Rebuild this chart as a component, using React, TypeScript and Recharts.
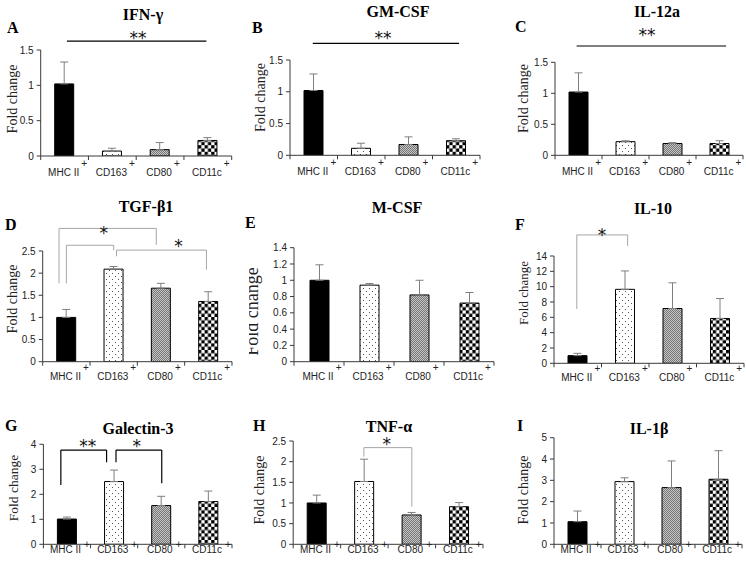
import React from 'react';
import { BarChart, Bar, XAxis, YAxis, ErrorBar, ReferenceLine, ReferenceDot, Cell } from 'recharts';

// ---------- data ----------
const categories = ['MHC II', 'CD163', 'CD80', 'CD11c'];

const ifnMeans = [1.02, 0.07, 0.09, 0.22];
const ifnErrs = [0.31, 0.04, 0.1, 0.04];
const gmMeans = [1.02, 0.11, 0.17, 0.23];
const gmErrs = [0.26, 0.08, 0.12, 0.03];
const il12Means = [1.02, 0.22, 0.19, 0.19];
const il12Errs = [0.31, 0.015, 0.015, 0.045];
const tgfMeans = [1.0, 2.09, 1.66, 1.36];
const tgfErrs = [0.18, 0.06, 0.11, 0.22];
const mcsfMeans = [1.0, 0.94, 0.82, 0.72];
const mcsfErrs = [0.19, 0.02, 0.18, 0.13];
const il10Means = [1.0, 9.65, 7.15, 5.85];
const il10Errs = [0.3, 2.4, 3.35, 2.6];
const galMeans = [1.01, 2.51, 1.55, 1.71];
const galErrs = [0.08, 0.46, 0.37, 0.42];
const tnfMeans = [1.0, 1.52, 0.71, 0.91];
const tnfErrs = [0.19, 0.54, 0.06, 0.1];
const il1Means = [1.06, 2.94, 2.66, 3.05];
const il1Errs = [0.5, 0.18, 1.25, 1.34];

const ticks15 = [0, 0.5, 1, 1.5];
const ticks25 = [0, 0.5, 1, 1.5, 2, 2.5];
const ticks14 = [0, 0.2, 0.4, 0.6, 0.8, 1, 1.2, 1.4];
const ticks14b = [0, 2, 4, 6, 8, 10, 12, 14];
const ticks4 = [0, 1, 2, 3, 4];
const ticks5 = [0, 1, 2, 3, 4, 5];
const xTicks = [0, 0.5, 1, 1.5, 2, 2.5, 3, 3.5, 4];

// significance brackets (data units: x in category slots 0..4, y in fold change)
const ifnSig = [{ x1: 0.55, x2: 3.47, top: 1.627, l: 1.627, r: 1.627 }];
const ifnStars = [{ x: 2.04, y: 1.73, t: '**' }];
const gmSig = [{ x1: 0.48, x2: 3.56, top: 1.763, l: 1.763, r: 1.763 }];
const gmStars = [{ x: 1.96, y: 1.91, t: '**' }];
const il12Sig = [{ x1: 0.46, x2: 3.64, top: 1.763, l: 1.763, r: 1.763 }];
const il12Stars = [{ x: 1.96, y: 2.0, t: '**' }];
const tgfSig = [
  { x1: 0.345, x2: 2.4, top: 3.01, l: 1.77, r: 2.64 },
  { x1: 0.5, x2: 1.5, top: 2.63, l: 1.77, r: 2.52 },
  { x1: 1.56, x2: 3.46, top: 2.52, l: 2.38, r: 2.08 },
];
const tgfStars = [
  { x: 1.29, y: 3.0, t: '*' },
  { x: 2.87, y: 2.7, t: '*' },
];
const il10Sig = [{ x1: 0.48, x2: 1.55, top: 16.75, l: 7.09, r: 15.3 }];
const il10Stars = [{ x: 1.01, y: 17.3, t: '*' }];
const galSig = [
  { x1: 0.37, x2: 1.34, top: 3.77, l: 2.37, r: 3.28 },
  { x1: 1.54, x2: 2.51, top: 3.77, l: 3.28, r: 2.44 },
];
const galStars = [
  { x: 0.94, y: 4.11, t: '**' },
  { x: 1.98, y: 4.11, t: '*' },
];
const tnfSig = [{ x1: 1.49, x2: 2.5, top: 2.34, l: 2.12, r: 0.91 }];
const tnfStars = [{ x: 1.97, y: 2.52, t: '*' }];

// ---------- styles / layout ----------
const SANS = '"Liberation Sans", Arial, sans-serif';
const SERIF = '"Liberation Serif", "Times New Roman", serif';
const AXIS = '#3a3a3a';
const fills = ['#000000', 'url(#pDots)', 'url(#pGrain)', 'url(#pChecker)'];

const rows = [
  { labelDy: 20, plusDy: -9.5, plusDx: 2, xH: 25 },
  { labelDy: 18, plusDy: -9, plusDx: 2, xH: 25 },
  { labelDy: 9, plusDy: -5, plusDx: 3, xH: 15 },
];

const panels = [
  { title: 'IFN-γ', letter: 'A', means: ifnMeans, errs: ifnErrs, yTicks: ticks15, sig: ifnSig, stars: ifnStars, sigColor: '#000',
    x0: 0, y0: 0, w: 248, h: 185, plot: { l: 40.7, r: 231.7, t: 50, b: 156 }, row: 0,
    titlePos: [143, 19.5], letterPos: [7, 33], yLab: [16.5, 99, 14] },
  { title: 'GM-CSF', letter: 'B', means: gmMeans, errs: gmErrs, yTicks: ticks15, sig: gmSig, stars: gmStars, sigColor: '#000',
    x0: 248, y0: 0, w: 247, h: 185, plot: { l: 290, r: 480, t: 60, b: 155.3 }, row: 0,
    titlePos: [398, 16.7], letterPos: [252, 33], yLab: [265, 97.5, 14] },
  { title: 'IL-12a', letter: 'C', means: il12Means, errs: il12Errs, yTicks: ticks15, sig: il12Sig, stars: il12Stars, sigColor: '#000',
    x0: 495, y0: 0, w: 251, h: 185, plot: { l: 555, r: 743, t: 62.3, b: 155.3 }, row: 0,
    titlePos: [657, 16.7], letterPos: [515, 32], yLab: [528, 98.5, 14] },
  { title: 'TGF-β1', letter: 'D', means: tgfMeans, errs: tgfErrs, yTicks: ticks25, sig: tgfSig, stars: tgfStars, sigColor: '#a6a6a6',
    x0: 0, y0: 185, w: 248, h: 200, plot: { l: 42.7, r: 232, t: 251, b: 361.7 }, row: 1,
    titlePos: [146, 212], letterPos: [5, 230], yLab: [17, 299, 14] },
  { title: 'M-CSF', letter: 'E', means: mcsfMeans, errs: mcsfErrs, yTicks: ticks14, sig: [], stars: [], sigColor: '#a6a6a6',
    x0: 248, y0: 185, w: 247, h: 200, plot: { l: 294, r: 494, t: 247.7, b: 361.7 }, row: 1,
    titlePos: [397, 213], letterPos: [245, 228], yLab: [258, 311.5, 18] },
  { title: 'IL-10', letter: 'F', means: il10Means, errs: il10Errs, yTicks: ticks14b, sig: il10Sig, stars: il10Stars, sigColor: '#a6a6a6',
    x0: 495, y0: 185, w: 251, h: 200, plot: { l: 554, r: 744, t: 256, b: 363.3 }, row: 1,
    titlePos: [653, 214], letterPos: [515, 230], yLab: [528, 293, 13] },
  { title: 'Galectin-3', letter: 'G', means: galMeans, errs: galErrs, yTicks: ticks4, sig: galSig, stars: galStars, sigColor: '#000',
    x0: 0, y0: 375, w: 248, h: 187, plot: { l: 43.4, r: 232, t: 444.3, b: 544.3 }, row: 2,
    titlePos: [138, 434], letterPos: [5, 431], yLab: [18, 488, 13.5] },
  { title: 'TNF-α', letter: 'H', means: tnfMeans, errs: tnfErrs, yTicks: ticks25, sig: tnfSig, stars: tnfStars, sigColor: '#a6a6a6',
    x0: 248, y0: 375, w: 247, h: 187, plot: { l: 293.2, r: 483, t: 441, b: 544.3 }, row: 2,
    titlePos: [389, 432], letterPos: [253, 431], yLab: [264, 490, 14] },
  { title: 'IL-1β', letter: 'I', means: il1Means, errs: il1Errs, yTicks: ticks5, sig: [], stars: [], sigColor: '#000',
    x0: 495, y0: 375, w: 251, h: 187, plot: { l: 554, r: 742, t: 437.7, b: 544.3 }, row: 2,
    titlePos: [649, 434], letterPos: [517, 431], yLab: [528, 490, 14] },
];

const Y_W = 30;

function XTick(props: any) {
  const { x, y, payload, row } = props;
  const v = payload.value as number;
  if (Number.isInteger(v)) {
    return <line x1={x} x2={x} y1={y} y2={y + 4} stroke={AXIS} strokeWidth={1} />;
  }
  const idx = Math.floor(v);
  const r = rows[row];
  return (
    <text x={x} y={y + r.labelDy} textAnchor="middle" fontFamily={SANS} fontSize={10} fill="#222">
      <tspan dx={3}>{categories[idx]}</tspan>
      <tspan dx={r.plusDx} dy={r.plusDy} fontSize={10}>+</tspan>
    </text>
  );
}

function Panel({ p }: { p: any }) {
  const r = rows[p.row];
  const margin = {
    top: p.plot.t - p.y0,
    right: p.x0 + p.w - p.plot.r,
    bottom: p.y0 + p.h - p.plot.b - r.xH,
    left: p.plot.l - p.x0 - Y_W,
  };
  const data = categories.map((c, i) => ({ pos: i + 0.5, name: c, mean: p.means[i], err: [0, p.errs[i]] }));
  const yMax = p.yTicks[p.yTicks.length - 1];
  const sigW = p.sigColor === '#000' ? 1.2 : 1;
  const lines: any[] = [];
  p.sig.forEach((s: any, i: number) => {
    lines.push(
      <ReferenceLine key={`h${i}`} segment={[{ x: s.x1, y: s.top }, { x: s.x2, y: s.top }]} stroke={p.sigColor} strokeWidth={sigW} ifOverflow="visible" />
    );
    if (s.l !== s.top) {
      lines.push(
        <ReferenceLine key={`l${i}`} segment={[{ x: s.x1, y: s.top }, { x: s.x1, y: s.l }]} stroke={p.sigColor} strokeWidth={sigW} ifOverflow="visible" />
      );
    }
    if (s.r !== s.top) {
      lines.push(
        <ReferenceLine key={`r${i}`} segment={[{ x: s.x2, y: s.top }, { x: s.x2, y: s.r }]} stroke={p.sigColor} strokeWidth={sigW} ifOverflow="visible" />
      );
    }
  });
  return (
    <div style={{ position: 'absolute', left: p.x0, top: p.y0, width: p.w, height: p.h }}>
      <BarChart width={p.w} height={p.h} data={data} margin={margin} style={{ overflow: 'visible' }}>
        <XAxis
          dataKey="pos"
          type="number"
          domain={[0, 4]}
          ticks={xTicks}
          interval={0}
          allowDataOverflow
          tickSize={0}
          tickMargin={0}
          tickLine={false}
          height={r.xH}
          stroke={AXIS}
          tick={(tp: any) => <XTick {...tp} row={p.row} />}
        />
        <YAxis
          type="number"
          domain={[0, yMax]}
          ticks={p.yTicks}
          interval={0}
          allowDataOverflow
          width={Y_W}
          tickSize={4}
          tickMargin={3}
          stroke={AXIS}
          tick={{ fontSize: 10, fill: '#222', fontFamily: SANS }}
        />
        <Bar dataKey="mean" barSize={19} stroke="#000" strokeWidth={1} isAnimationActive={false}>
          {data.map((d, i) => (
            <Cell key={d.name} fill={fills[i]} />
          ))}
          <ErrorBar dataKey="err" direction="y" width={4} stroke="#7f7f7f" strokeWidth={1} isAnimationActive={false} />
        </Bar>
        {lines}
        {p.stars.map((s: any, i: number) => (
          <ReferenceDot
            key={`s${i}`}
            x={s.x}
            y={s.y}
            ifOverflow="visible"
            shape={(sp: any) => (
              <text x={sp.cx} y={sp.cy + 10} textAnchor="middle" fontFamily='"DejaVu Sans", sans-serif' fontSize={17} fill="#111">
                {s.t}
              </text>
            )}
          />
        ))}
      </BarChart>
    </div>
  );
}

export default function App() {
  return (
    <div style={{ position: 'absolute', left: 0, top: 0, width: 746, height: 562, background: '#fff', overflow: 'hidden' }}>
      <svg width={0} height={0} style={{ position: 'absolute' }}>
        <defs>
          <pattern id="pDots" width="6" height="6" patternUnits="userSpaceOnUse">
            <rect width="6" height="6" fill="#fff" />
            <rect x="1" y="1" width="1" height="1" fill="#555" />
            <rect x="4" y="4" width="1" height="1" fill="#555" />
          </pattern>
          <pattern id="pGrain" width="2" height="2" patternUnits="userSpaceOnUse">
            <rect width="2" height="2" fill="#c4c4c4" />
            <rect x="0" y="0" width="1" height="1" fill="#777" />
            <rect x="1" y="1" width="1" height="1" fill="#777" />
          </pattern>
          <pattern id="pChecker" width="6.6" height="6.6" patternUnits="userSpaceOnUse">
            <rect width="6.6" height="6.6" fill="#fff" />
            <rect width="3.3" height="3.3" fill="#000" />
            <rect x="3.3" y="3.3" width="3.3" height="3.3" fill="#000" />
          </pattern>
          <clipPath id="clipE">
            <rect x="249" y="0" width="30" height="562" />
          </clipPath>
        </defs>
      </svg>
      {panels.map((p) => (
        <Panel key={p.letter} p={p} />
      ))}
      <svg width={746} height={562} style={{ position: 'absolute', left: 0, top: 0, pointerEvents: 'none' }}>
        {panels.map((p) => (
          <g key={p.letter}>
            <text x={p.titlePos[0]} y={p.titlePos[1]} textAnchor="middle" fontFamily={SERIF} fontWeight="bold" fontSize={16} fill="#000">
              {p.title}
            </text>
            <text x={p.letterPos[0]} y={p.letterPos[1]} fontFamily={SERIF} fontWeight="bold" fontSize={16} fill="#000">
              {p.letter}
            </text>
            <g clipPath={p.letter === 'E' ? 'url(#clipE)' : undefined}>
              <text
                x={p.yLab[0]}
                y={p.yLab[1]}
                transform={`rotate(-90 ${p.yLab[0]} ${p.yLab[1]})`}
                textAnchor="middle"
                fontFamily={SERIF}
                fontSize={p.yLab[2]}
                fill="#222"
              >
                Fold change
              </text>
            </g>
          </g>
        ))}
      </svg>
    </div>
  );
}
